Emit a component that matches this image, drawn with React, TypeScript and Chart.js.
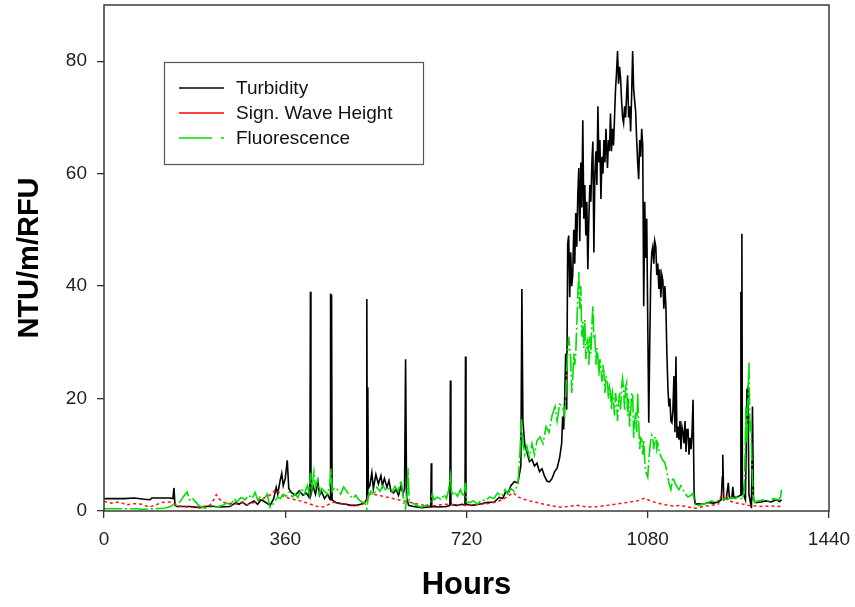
import React, { useEffect, useRef } from "react";
import { Chart, registerables } from "chart.js";

Chart.register(...registerables);

// [hour, value] pairs
const turbidity: [number, number][] = [
  [0, 2.2], [40, 2.2], [60, 2.3], [80, 2.1], [91, 2.0], [95, 2.3], [130, 2.3], [137, 2.2], [139, 4.1], [141, 1.0],
  [145, 0.8], [170, 0.8], [190, 0.6], [210, 0.9], [230, 0.7], [250, 0.8], [262, 1.5], [268, 1.2], [275, 1.6], [283, 1.0],
  [290, 1.4], [298, 1.8], [305, 1.2], [312, 2.0], [320, 1.6], [330, 1.0], [337, 2.2], [342, 4.2], [345, 3.0], [350, 5.5],
  [353, 6.7], [356, 4.5], [360, 5.8], [364, 9.0], [367, 4.0], [372, 3.3], [380, 2.8], [388, 3.6], [395, 2.8], [402, 3.2],
  [407, 2.5], [409, 5], [410, 39], [411, 3], [415, 4.5], [420, 3.0], [425, 5.2], [428, 2.8], [432, 3.5], [438, 2.2],
  [444, 3.0], [449, 2.0], [450, 38.7], [451, 2.5], [452, 38.5], [453, 2.0], [460, 1.5], [470, 1.3], [480, 1.2], [490, 1.0],
  [500, 1.0], [510, 1.2], [518, 1.5], [521, 2.0], [522, 37.7], [523, 3], [524, 22], [525, 4], [528, 4.5], [532, 6.8],
  [535, 4.0], [540, 6.5], [545, 4.8], [550, 6.3], [553, 4.5], [557, 5.8], [562, 4.2], [566, 5.4], [570, 3.5], [575, 3.2],
  [580, 3.8], [585, 2.8], [590, 4.5], [594, 3.0], [597, 4.0], [599, 27], [601, 2.5], [605, 1.0], [615, 0.8], [630, 0.6],
  [645, 0.7], [649, 0.7], [650, 8.5], [651, 0.8], [665, 0.7], [680, 0.8], [687, 1.0], [688, 23.2], [689, 1.2], [700, 1.0],
  [712, 1.2], [717, 1.0], [718, 27.5], [719, 1.2], [730, 1.0], [745, 1.2], [760, 1.5], [775, 1.6], [785, 2.4], [792, 2.2],
  [798, 3.5], [803, 3.2], [808, 4.5], [815, 5.2], [822, 5.0], [828, 8], [830, 39.5], [832, 16], [836, 11.5], [840, 10.5],
  [845, 8.8], [850, 9.2], [855, 8.0], [860, 8.5], [865, 7.0], [870, 7.5], [875, 6.2], [880, 5.3], [885, 5.2], [890, 5.8],
  [895, 7.0], [900, 7.6], [905, 9.5], [909, 12], [911, 16.8], [913, 14.5], [915, 20], [917, 28], [919, 18], [921, 47.6],
  [923, 49], [925, 38], [927, 46], [929, 40], [931, 42], [933, 50], [935, 44], [937, 53], [939, 47], [941, 56],
  [943, 61], [945, 48], [947, 62], [949, 54], [951, 69.5], [953, 52], [955, 58], [957, 49], [959, 55], [961, 43],
  [963, 52], [965, 58], [967, 55], [969, 62], [971, 65.7], [973, 46], [975, 60], [977, 64], [979, 58], [981, 72],
  [983, 62], [985, 66], [987, 55.5], [989, 63], [991, 60], [993, 66], [995, 62], [997, 68], [1000, 61], [1002, 66],
  [1004, 64], [1006, 70.7], [1008, 64], [1010, 68], [1012, 65], [1014, 70], [1016, 75], [1018, 78], [1020, 81.8], [1022, 76],
  [1024, 79], [1026, 77], [1028, 73], [1030, 70], [1032, 69], [1034, 72], [1036, 70], [1038, 74], [1040, 77.5], [1042, 70],
  [1044, 72], [1046, 67.5], [1048, 74], [1050, 81.8], [1052, 75], [1054, 73], [1056, 71], [1058, 66], [1060, 62], [1062, 59],
  [1064, 66], [1066, 63], [1068, 68], [1070, 65], [1072, 36.4], [1074, 55], [1076, 45], [1078, 52], [1080, 33.6], [1082, 15.7],
  [1084, 30], [1086, 42], [1088, 46], [1090, 47], [1092, 44], [1094, 48], [1096, 47], [1098, 42], [1100, 44], [1102, 39.5],
  [1104, 43], [1106, 38], [1108, 42], [1110, 41], [1112, 36], [1114, 40], [1116, 36.4], [1118, 28], [1120, 22], [1122, 18.6],
  [1124, 20], [1126, 16], [1128, 15.7], [1130, 18], [1132, 24], [1134, 14], [1136, 27.5], [1138, 13], [1140, 15], [1142, 12.7],
  [1144, 16], [1146, 11], [1148, 15], [1150, 14], [1152, 12], [1154, 16], [1156, 10.5], [1158, 14.5], [1160, 14.5], [1162, 10],
  [1164, 13], [1166, 11], [1168, 14], [1170, 19.8], [1172, 3.2], [1174, 1.4], [1176, 1.2], [1180, 1.3], [1190, 1.2], [1200, 1.5],
  [1210, 1.4], [1220, 1.6], [1226, 2.0], [1228, 6], [1229, 10], [1231, 2], [1236, 2.2], [1240, 5], [1242, 2.5], [1247, 2.3],
  [1249, 4.3], [1251, 2.4], [1258, 2.5], [1264, 2.8], [1265, 39], [1266, 3], [1267, 49.3], [1268, 5], [1270, 3], [1274, 2],
  [1277, 21.5], [1279, 22], [1281, 3], [1284, 1.5], [1286, 0.5], [1288, 18.6], [1290, 2], [1295, 1.5], [1305, 1.6], [1315, 1.8],
  [1325, 1.6], [1335, 2.0], [1342, 1.7], [1346, 2.0],
];

const waveHeight: [number, number][] = [
  [0, 1.7], [15, 1.4], [30, 1.6], [45, 1.1], [60, 1.3], [75, 1.2], [90, 0.7], [100, 1.0], [115, 1.5], [130, 1.6],
  [140, 1.2], [150, 0.9], [165, 0.7], [180, 0.6], [195, 0.8], [210, 1.0], [218, 2.0], [223, 2.9], [228, 2.2], [236, 1.6],
  [245, 1.3], [255, 1.4], [265, 1.2], [275, 1.5], [285, 1.1], [295, 1.4], [305, 1.8], [315, 2.2], [325, 2.6], [333, 3.0],
  [340, 3.8], [346, 3.5], [352, 2.8], [360, 2.5], [370, 2.2], [380, 2.0], [390, 1.8], [400, 1.5], [410, 1.2], [420, 0.9],
  [430, 0.7], [440, 0.8], [450, 1.4], [460, 1.6], [470, 1.4], [480, 1.3], [490, 1.1], [500, 1.0], [510, 1.0], [520, 1.6],
  [528, 3.0], [540, 2.9], [555, 2.6], [570, 2.3], [585, 2.0], [600, 1.7], [615, 1.4], [630, 1.1], [645, 0.9], [660, 1.0],
  [680, 1.2], [700, 1.1], [720, 1.0], [740, 1.1], [760, 1.3], [780, 1.6], [795, 2.2], [805, 2.8], [813, 3.3], [820, 2.6],
  [830, 2.2], [845, 1.8], [860, 1.5], [875, 1.2], [890, 0.9], [905, 0.7], [920, 0.8], [940, 1.0], [960, 0.7], [980, 0.8],
  [1000, 1.0], [1015, 1.2], [1030, 1.4], [1045, 1.6], [1060, 1.8], [1074, 2.3], [1085, 1.8], [1100, 1.4], [1115, 1.1], [1130, 0.9],
  [1145, 1.0], [1160, 0.7], [1175, 0.5], [1190, 0.8], [1205, 1.0], [1220, 1.2], [1228, 3.2], [1235, 2.8], [1240, 2.0], [1250, 1.5],
  [1265, 1.3], [1280, 1.0], [1295, 0.9], [1310, 0.8], [1325, 0.9], [1340, 0.8], [1346, 0.9],
];

const fluorescence: [number, number][] = [
  [0, 0.4], [64, 0.4], [75, 0.3], [100, 0.4], [120, 0.5], [132, 0.8], [138, 1.2], [142, 0.9], [150, 1.5], [158, 2.6],
  [165, 3.4], [170, 2.0], [175, 2.4], [180, 1.8], [188, 1.0], [196, 0.6], [205, 0.5], [215, 0.8], [225, 0.7], [235, 1.0],
  [245, 1.4], [252, 1.0], [258, 2.2], [264, 1.6], [272, 2.4], [280, 2.0], [288, 2.8], [294, 2.2], [300, 3.3], [305, 2.0],
  [311, 2.6], [318, 2.0], [324, 3.0], [330, 0.6], [334, 1.0], [340, 1.8], [345, 2.5], [350, 2.2], [356, 3.0], [362, 2.6],
  [368, 3.4], [374, 2.5], [380, 3.0], [385, 2.4], [392, 4.0], [398, 3.0], [404, 4.5], [408, 3.2], [410, 6.8], [413, 4.0],
  [417, 7.0], [420, 4.2], [424, 5.5], [428, 3.0], [432, 4.0], [438, 3.5], [444, 3.0], [449, 5.0], [451, 7.5], [453, 3.5],
  [458, 4.2], [464, 3.8], [470, 3.0], [476, 4.3], [482, 3.5], [488, 2.8], [494, 2.2], [500, 2.8], [506, 2.0], [512, 1.6],
  [518, 1.5], [522, 0.4], [525, 2.5], [530, 3.5], [536, 2.8], [542, 4.2], [548, 3.5], [554, 4.5], [560, 3.6], [566, 4.0],
  [572, 3.4], [578, 4.4], [584, 3.5], [590, 5.5], [594, 3.0], [596, 1.0], [599, 0.4], [602, 3.0], [604, 7.6], [606, 2.0],
  [612, 1.5], [620, 1.0], [630, 0.7], [640, 1.0], [648, 1.4], [652, 3.0], [656, 2.0], [662, 2.5], [670, 2.0], [676, 3.0],
  [680, 2.2], [684, 3.5], [688, 6.2], [691, 2.8], [696, 3.5], [702, 2.6], [708, 3.8], [714, 2.5], [718, 5.0], [720, 1.6],
  [726, 1.5], [734, 1.8], [742, 1.2], [750, 2.0], [758, 1.8], [766, 2.5], [774, 2.2], [782, 3.2], [790, 2.6], [796, 3.8],
  [802, 3.0], [808, 4.0], [815, 3.5], [822, 4.6], [826, 10], [829, 16.3], [832, 12], [836, 10], [840, 11.5], [845, 9.5],
  [850, 12], [855, 10], [860, 12.5], [866, 13.2], [872, 12], [878, 15], [884, 14], [890, 17], [896, 18.6], [900, 16],
  [905, 19], [911, 18.6], [915, 17], [917, 20.4], [919, 25], [923, 31], [927, 27], [929, 21], [931, 23.4], [933, 28],
  [935, 26], [937, 28], [939, 33], [941, 38], [943, 42.5], [945, 36], [947, 40], [949, 31], [951, 33.6], [953, 29],
  [955, 34], [957, 27], [959, 30], [961, 30.5], [963, 26], [965, 31], [967, 28], [969, 33], [971, 36.4], [973, 30.5],
  [975, 31], [977, 26], [979, 29], [981, 27.5], [983, 24], [985, 27], [987, 25.7], [989, 23], [991, 26], [993, 24.6],
  [995, 21], [997, 24], [1000, 22.8], [1002, 20], [1004, 22], [1006, 21], [1008, 18], [1010, 21], [1012, 19.8], [1014, 17],
  [1016, 21], [1018, 19.3], [1020, 16], [1022, 19], [1024, 21], [1026, 18], [1028, 22], [1030, 23.5], [1032, 21.6], [1034, 18],
  [1036, 22], [1038, 22.8], [1040, 17], [1042, 20], [1044, 15], [1046, 17.5], [1048, 21], [1050, 21], [1052, 13], [1054, 16],
  [1056, 17.5], [1058, 14], [1060, 21], [1062, 15.7], [1064, 11], [1066, 13], [1068, 12.7], [1070, 10], [1072, 12.7], [1074, 9],
  [1076, 7], [1080, 6], [1082, 9], [1084, 11], [1086, 12.7], [1088, 13.5], [1090, 13], [1092, 11], [1094, 13], [1096, 13.2],
  [1098, 11], [1100, 12], [1102, 10.9], [1106, 9.7], [1110, 9], [1114, 8.6], [1118, 7], [1122, 5], [1126, 3.8], [1130, 6],
  [1134, 5], [1138, 4.3], [1142, 3.8], [1146, 4.5], [1150, 3.8], [1155, 3.0], [1160, 2.5], [1166, 2.8], [1170, 3.2], [1173, 1.5],
  [1176, 0.8], [1182, 1.0], [1190, 1.2], [1198, 1.4], [1206, 1.8], [1214, 1.6], [1222, 2.0], [1230, 2.2], [1238, 2.0], [1246, 2.4],
  [1254, 2.2], [1262, 2.6], [1268, 2.0], [1272, 4], [1275, 18.6], [1277, 12], [1279, 20], [1281, 26.4], [1283, 14], [1285, 16],
  [1287, 8], [1289, 3], [1292, 1.5], [1300, 1.8], [1310, 2.0], [1320, 1.8], [1330, 2.2], [1340, 2.0], [1344, 2.5], [1346, 4.3],
];

const seriesLabels = ["Turbidity", "Sign. Wave Height", "Fluorescence"];
const xTicks = [0, 360, 720, 1080, 1440];
const yTicks = [0, 20, 40, 60, 80];
const xTitle = "Hours";
const yTitle = "NTU/m/RFU";

const FONT = '"Liberation Sans", Arial, sans-serif';

const framePlugin = {
  id: "frame",
  afterDatasetsDraw(chart: any) {
    const { ctx, chartArea: a } = chart;
    ctx.save();
    ctx.strokeStyle = "#3a3a3a";
    ctx.lineWidth = 1.5;
    ctx.strokeRect(a.left, a.top, a.right - a.left, a.bottom - a.top);
    ctx.restore();
  },
};

const legendPlugin = {
  id: "boxLegend",
  afterDraw(chart: any) {
    const { ctx } = chart;
    ctx.save();
    ctx.strokeStyle = "#555";
    ctx.lineWidth = 1.2;
    ctx.strokeRect(164.5, 62.5, 259, 102);
    const rows = [
      { color: "#000000", dash: [] as number[], y: 88 },
      { color: "#ff0000", dash: [] as number[], y: 113 },
      { color: "#00e000", dash: [33, 9, 3, 100], y: 138 },
    ];
    rows.forEach((r, i) => {
      ctx.beginPath();
      ctx.setLineDash(r.dash);
      ctx.strokeStyle = r.color;
      ctx.lineWidth = 1.3;
      ctx.moveTo(179, r.y);
      ctx.lineTo(224, r.y);
      ctx.stroke();
      ctx.setLineDash([]);
      ctx.fillStyle = "#111";
      ctx.font = `19px ${FONT}`;
      ctx.textBaseline = "middle";
      ctx.fillText(seriesLabels[i], 236, r.y + 1);
    });
    ctx.restore();
  },
};

const zeroPad = (s: any) => {
  s.paddingTop = 0;
  s.paddingBottom = 0;
  s.paddingLeft = 0;
  s.paddingRight = 0;
};

export default function App() {
  const ref = useRef<HTMLCanvasElement | null>(null);
  useEffect(() => {
    if (!ref.current) return;
    const toPts = (arr: [number, number][]) => arr.map(([x, y]) => ({ x, y }));
    const chart = new Chart(ref.current, {
      type: "line",
      data: {
        datasets: [
          {
            label: seriesLabels[0],
            data: toPts(turbidity),
            borderColor: "#000000",
            borderWidth: 1.6,
            pointRadius: 0,
            tension: 0,
            order: 2,
          },
          {
            label: seriesLabels[1],
            data: toPts(waveHeight),
            borderColor: "#ff1010",
            borderWidth: 1.5,
            borderDash: [3, 3],
            pointRadius: 0,
            tension: 0,
            order: 1,
          },
          {
            label: seriesLabels[2],
            data: toPts(fluorescence),
            borderColor: "#00e000",
            borderWidth: 1.6,
            borderDash: [18, 3, 2, 3],
            pointRadius: 0,
            tension: 0,
            order: 0,
          },
        ],
      },
      options: {
        animation: false,
        responsive: true,
        maintainAspectRatio: false,
        parsing: false as any,
        layout: { padding: { top: 5, right: 26, left: 0, bottom: 0 } },
        plugins: { legend: { display: false }, tooltip: { enabled: false } },
        scales: {
          x: {
            type: "linear",
            min: xTicks[0],
            max: xTicks[xTicks.length - 1],
            afterFit: (s: any) => { s.height = 96; zeroPad(s); },
            afterBuildTicks: (s: any) => { s.ticks = xTicks.map((v) => ({ value: v })); },
            grid: { drawOnChartArea: false, drawTicks: true, tickLength: 7, color: "#333", lineWidth: 1.3 },
            border: { display: false },
            ticks: { font: { family: FONT, size: 19 }, color: "#222", padding: 10, maxRotation: 0, callback: (v: any) => String(v) },
            title: { display: true, text: xTitle, font: { family: FONT, size: 31, weight: "bold" }, color: "#000", padding: { top: 0, bottom: 3 } },
          },
          y: {
            type: "linear",
            min: 0,
            max: 90,
            afterFit: (s: any) => { s.width = 104; zeroPad(s); },
            afterBuildTicks: (s: any) => { s.ticks = yTicks.map((v) => ({ value: v })); },
            grid: { drawOnChartArea: false, drawTicks: true, tickLength: 7, color: "#333", lineWidth: 1.3 },
            border: { display: false },
            ticks: { font: { family: FONT, size: 19 }, color: "#222", padding: 10, callback: (v: any) => String(v) },
            title: { display: true, text: yTitle, font: { family: FONT, size: 29, weight: "bold" }, color: "#000", padding: { top: 13, bottom: 0 } },
          },
        },
      },
      plugins: [framePlugin, legendPlugin],
    });
    return () => chart.destroy();
  }, []);
  return (
    <div style={{ position: "fixed", left: 0, top: 0, width: 855, height: 607, background: "#fff" }}>
      <canvas ref={ref} />
    </div>
  );
}
